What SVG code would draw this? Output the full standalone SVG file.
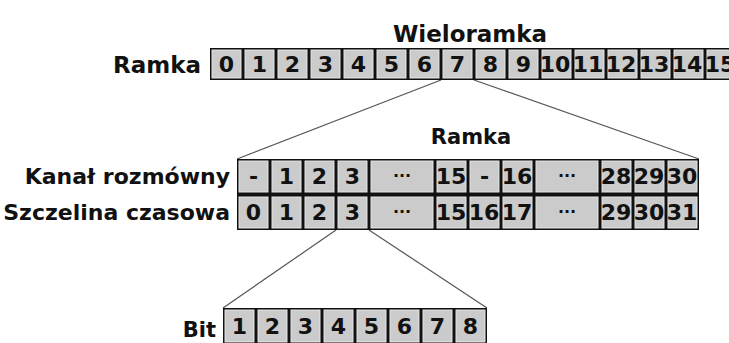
<svg xmlns="http://www.w3.org/2000/svg" width="729" height="343" viewBox="0 0 729 343">
<style>
.frame{fill:#111;}
.cell{fill:#cbcbcb;stroke:#e6e6e6;stroke-width:1;}
.t{font-family:"DejaVu Sans",Verdana,sans-serif;font-weight:bold;font-size:22px;fill:#111;text-anchor:middle;}
.lbl{font-family:"DejaVu Sans",Verdana,sans-serif;font-weight:bold;font-size:22px;fill:#111;text-anchor:end;}
.big{font-family:"DejaVu Sans",Verdana,sans-serif;font-weight:bold;font-size:23px;fill:#111;}
.hdr{font-family:"DejaVu Sans",Verdana,sans-serif;font-weight:bold;font-size:21px;fill:#111;text-anchor:middle;}
.dots{font-family:"DejaVu Sans",sans-serif;font-weight:bold;font-size:16px;fill:#111;text-anchor:middle;}
.conn{stroke:#555;stroke-width:1.2;fill:none;}
</style>
<rect width="729" height="343" fill="#fff"/>
<g id="connectors">
<line class="conn" x1="441" y1="80" x2="237" y2="159"/>
<line class="conn" x1="474" y1="80" x2="699" y2="159"/>
<line class="conn" x1="336" y1="230" x2="223" y2="308"/>
<line class="conn" x1="369" y1="230" x2="487" y2="308"/>
</g>
<g id="wieloramka">
<text class="big" x="470" y="42" text-anchor="middle">Wieloramka</text>
<text class="big" x="201" y="73" text-anchor="end">Ramka</text>
<rect class="frame" x="210" y="48" width="528" height="32"/>
<rect class="cell" x="212" y="50" width="29" height="28"/><rect class="cell" x="245" y="50" width="29" height="28"/>
<rect class="cell" x="278" y="50" width="29" height="28"/><rect class="cell" x="311" y="50" width="29" height="28"/>
<rect class="cell" x="344" y="50" width="29" height="28"/><rect class="cell" x="377" y="50" width="29" height="28"/>
<rect class="cell" x="410" y="50" width="29" height="28"/><rect class="cell" x="443" y="50" width="29" height="28"/>
<rect class="cell" x="476" y="50" width="29" height="28"/><rect class="cell" x="509" y="50" width="29" height="28"/>
<rect class="cell" x="542" y="50" width="29" height="28"/><rect class="cell" x="575" y="50" width="29" height="28"/>
<rect class="cell" x="608" y="50" width="29" height="28"/><rect class="cell" x="641" y="50" width="29" height="28"/>
<rect class="cell" x="674" y="50" width="29" height="28"/><rect class="cell" x="707" y="50" width="29" height="28"/>
<text class="t" x="226.5" y="72">0</text><text class="t" x="259.5" y="72">1</text><text class="t" x="292.5" y="72">2</text>
<text class="t" x="325.5" y="72">3</text><text class="t" x="358.5" y="72">4</text><text class="t" x="391.5" y="72">5</text>
<text class="t" x="424.5" y="72">6</text><text class="t" x="457.5" y="72">7</text><text class="t" x="490.5" y="72">8</text>
<text class="t" x="523.5" y="72">9</text><text class="t" x="555" y="72">10</text><text class="t" x="588" y="72">11</text>
<text class="t" x="621" y="72">12</text><text class="t" x="654" y="72">13</text><text class="t" x="687" y="72">14</text>
<text class="t" x="720" y="72">15</text>
</g>
<g id="ramka">
<text class="hdr" x="471" y="144">Ramka</text>
<text class="lbl" x="230" y="184">Kanał rozmówny</text>
<text class="lbl" x="230" y="220">Szczelina czasowa</text>
<rect class="frame" x="237" y="159" width="462" height="71"/>
<g>
<rect class="cell" x="239" y="161" width="29" height="31"/><rect class="cell" x="272" y="161" width="29" height="31"/>
<rect class="cell" x="305" y="161" width="29" height="31"/><rect class="cell" x="338" y="161" width="29" height="31"/>
<rect class="cell" x="371" y="161" width="62" height="31"/><rect class="cell" x="437" y="161" width="29" height="31"/>
<rect class="cell" x="470" y="161" width="29" height="31"/><rect class="cell" x="503" y="161" width="29" height="31"/>
<rect class="cell" x="536" y="161" width="62" height="31"/><rect class="cell" x="602" y="161" width="29" height="31"/>
<rect class="cell" x="635" y="161" width="29" height="31"/><rect class="cell" x="668" y="161" width="29" height="31"/>
<text class="t" x="253.5" y="184">-</text><text class="t" x="286.5" y="184">1</text><text class="t" x="319.5" y="184">2</text>
<text class="t" x="352.5" y="184">3</text><text class="dots" x="402" y="181">···</text><text class="t" x="451" y="184">15</text>
<text class="t" x="484.5" y="184">-</text><text class="t" x="517" y="184">16</text><text class="dots" x="567" y="181">···</text>
<text class="t" x="616" y="184">28</text><text class="t" x="649" y="184">29</text><text class="t" x="682" y="184">30</text>
</g>
<g>
<rect class="cell" x="239" y="197" width="29" height="31"/><rect class="cell" x="272" y="197" width="29" height="31"/>
<rect class="cell" x="305" y="197" width="29" height="31"/><rect class="cell" x="338" y="197" width="29" height="31"/>
<rect class="cell" x="371" y="197" width="62" height="31"/><rect class="cell" x="437" y="197" width="29" height="31"/>
<rect class="cell" x="470" y="197" width="29" height="31"/><rect class="cell" x="503" y="197" width="29" height="31"/>
<rect class="cell" x="536" y="197" width="62" height="31"/><rect class="cell" x="602" y="197" width="29" height="31"/>
<rect class="cell" x="635" y="197" width="29" height="31"/><rect class="cell" x="668" y="197" width="29" height="31"/>
<text class="t" x="253.5" y="220">0</text><text class="t" x="286.5" y="220">1</text><text class="t" x="319.5" y="220">2</text>
<text class="t" x="352.5" y="220">3</text><text class="dots" x="402" y="217">···</text><text class="t" x="451" y="220">15</text>
<text class="t" x="484" y="220">16</text><text class="t" x="517" y="220">17</text><text class="dots" x="567" y="217">···</text>
<text class="t" x="616" y="220">29</text><text class="t" x="649" y="220">30</text><text class="t" x="682" y="220">31</text>
</g>
</g>
<g id="bit">
<text class="lbl" x="216" y="337" style="font-size:21px">Bit</text>
<rect class="frame" x="223" y="308" width="264" height="36"/>
<rect class="cell" x="225" y="310" width="29" height="32"/><rect class="cell" x="258" y="310" width="29" height="32"/>
<rect class="cell" x="291" y="310" width="29" height="32"/><rect class="cell" x="324" y="310" width="29" height="32"/>
<rect class="cell" x="357" y="310" width="29" height="32"/><rect class="cell" x="390" y="310" width="29" height="32"/>
<rect class="cell" x="423" y="310" width="29" height="32"/><rect class="cell" x="456" y="310" width="29" height="32"/>
<text class="t" x="239.5" y="334">1</text><text class="t" x="272.5" y="334">2</text><text class="t" x="305.5" y="334">3</text>
<text class="t" x="338.5" y="334">4</text><text class="t" x="371.5" y="334">5</text><text class="t" x="404.5" y="334">6</text>
<text class="t" x="437.5" y="334">7</text><text class="t" x="470.5" y="334">8</text>
</g>
</svg>
